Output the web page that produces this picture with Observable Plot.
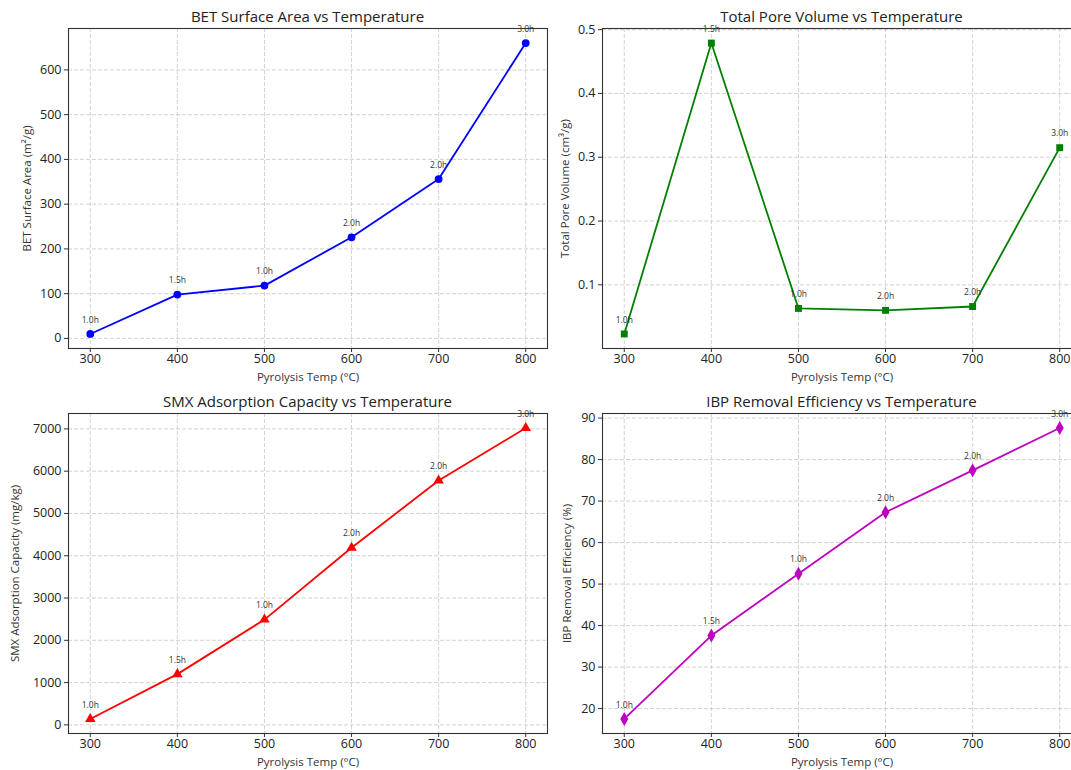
<!DOCTYPE html>
<html>
<head>
<meta charset="utf-8">
<script src="https://cdn.jsdelivr.net/npm/d3@7"></script>
<script src="https://cdn.jsdelivr.net/npm/@observablehq/plot@0.6"></script>
<style>
  body { margin: 0; background: #fff; overflow: hidden; }
  #root { position: relative; width: 1071px; height: 770px; overflow: hidden; font-family: "Open Sans", sans-serif; background: #fff; }
  .panel { position: absolute; width: 557px; height: 388px; }
  .panel svg { max-width: none !important; }
  .title { position: absolute; font-size: 15px; color: #222; transform: translate(-50%, -50%); white-space: nowrap; }
</style>
</head>
<body>
<div id="root"></div>
<script>
// ---- Data ----
const temps = [300, 400, 500, 600, 700, 800];
const durations = ["1.0h", "1.5h", "1.0h", "2.0h", "2.0h", "3.0h"];
const betArea = [10, 98, 118, 226, 356, 660];
const poreVolume = [0.023, 0.479, 0.063, 0.060, 0.066, 0.315];
const smxCapacity = [140, 1200, 2490, 4190, 5780, 7020];
const ibpEfficiency = [17.5, 37.6, 52.5, 67.3, 77.4, 87.6];

const xTicks = [300, 400, 500, 600, 700, 800];
const betTicks = [0, 100, 200, 300, 400, 500, 600];
const poreTicks = [0.1, 0.2, 0.3, 0.4, 0.5];
const smxTicks = [0, 1000, 2000, 3000, 4000, 5000, 6000, 7000];
const ibpTicks = [20, 30, 40, 50, 60, 70, 80, 90];

const titles = [
  "BET Surface Area vs Temperature",
  "Total Pore Volume vs Temperature",
  "SMX Adsorption Capacity vs Temperature",
  "IBP Removal Efficiency vs Temperature"
];
const yLabels = [
  "BET Surface Area (m²/g)",
  "Total Pore Volume (cm³/g)",
  "SMX Adsorption Capacity (mg/kg)",
  "IBP Removal Efficiency (%)"
];
const xLabel = "Pyrolysis Temp (°C)";

// ---- Layout / style ----
const panels = [
  { values: betArea, ticks: betTicks, color: "#0000ff", symbol: "circle", r: 3.9, left: 0, top: 0, ylabDx: -41, fmt: d3.format("d") },
  { values: poreVolume, ticks: poreTicks, color: "#008000", symbol: "square", r: 3.9, left: 534, top: 0, ylabDx: -37, fmt: d3.format(".1f") },
  { values: smxCapacity, ticks: smxTicks, color: "#ff0000", symbol: "triangle", r: 3.9, left: 0, top: 385, ylabDx: -53, fmt: d3.format("d") },
  { values: ibpEfficiency, ticks: ibpTicks, color: "#bf00bf", symbol: "diamond", r: 4.2, left: 534, top: 385, ylabDx: -35, fmt: d3.format("d") }
];

const W = 557, H = 388, ML = 68, MR = 10, MT = 28, MB = 40;

function padded(ext) {
  const p = (ext[1] - ext[0]) * 0.05;
  return [ext[0] - p, ext[1] + p];
}

const root = document.getElementById("root");

panels.forEach((p, i) => {
  const rows = temps.map((t, j) => ({ temp: t, value: p.values[j], label: durations[j] }));
  const xExt = d3.extent(temps);
  const yExt = d3.extent(p.values);
  const chart = Plot.plot({
    width: W, height: H,
    marginLeft: ML, marginRight: MR, marginTop: MT, marginBottom: MB,
    style: { fontFamily: "'Open Sans', sans-serif", fontSize: "12.5px", color: "#222", background: "transparent", overflow: "visible", maxWidth: "none" },
    x: { domain: padded(xExt) },
    y: { domain: padded(yExt) },
    marks: [
      Plot.gridX(xTicks, { stroke: "#b8b8b8", strokeOpacity: 0.8, strokeDasharray: "4,2", strokeWidth: 0.8 }),
      Plot.gridY(p.ticks, { stroke: "#b8b8b8", strokeOpacity: 0.8, strokeDasharray: "4,2", strokeWidth: 0.8 }),
      Plot.frame({ stroke: "#333", strokeWidth: 1.1 }),
      Plot.line(rows, { x: "temp", y: "value", stroke: p.color, strokeWidth: 1.8 }),
      Plot.dot(rows, { x: "temp", y: "value", fill: p.color, symbol: p.symbol, r: p.r }),
      Plot.text(rows, { x: "temp", y: "value", text: "label", dy: -14, fontSize: 8.5, fill: "#333" }),
      Plot.axisX(xTicks, { tickSize: 4, tickPadding: 2, label: null, fontSize: 12.5, stroke: "#333" }),
      Plot.axisY(p.ticks, { tickSize: 4, tickPadding: 3, label: null, tickFormat: p.fmt, fontSize: 12.5, stroke: "#333" }),
      Plot.text([yLabels[i]], { text: d => d, frameAnchor: "left", textAnchor: "middle", lineAnchor: "middle", dx: p.ylabDx, rotate: -90, fontSize: 11.5, fill: "#333" }),
      Plot.text([xLabel], { text: d => d, frameAnchor: "bottom", textAnchor: "middle", lineAnchor: "middle", dy: 29, fontSize: 11.5, fill: "#333" })
    ]
  });
  const div = document.createElement("div");
  div.className = "panel";
  div.style.left = p.left + "px";
  div.style.top = p.top + "px";
  div.appendChild(chart);
  root.appendChild(div);

  const t = document.createElement("div");
  t.className = "title";
  t.textContent = titles[i];
  t.style.left = (p.left + ML + (W - ML - MR) / 2) + "px";
  t.style.top = (p.top + 16) + "px";
  root.appendChild(t);
});
</script>
</body>
</html>
